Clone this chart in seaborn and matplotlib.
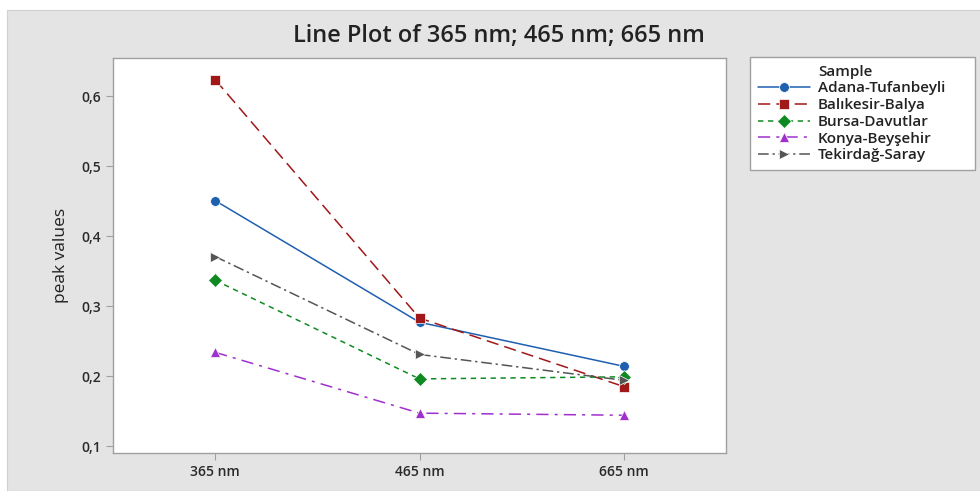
import numpy as np
import pandas as pd
import seaborn as sns
import matplotlib.pyplot as plt
from matplotlib.patches import Rectangle
from matplotlib.lines import Line2D

wavelengths = ['365 nm', '465 nm', '665 nm']
samples = ['Adana-Tufanbeyli', 'Balıkesir-Balya', 'Bursa-Davutlar',
           'Konya-Beyşehir', 'Tekirdağ-Saray']
adana = [0.451, 0.277, 0.214]
balikesir = [0.624, 0.283, 0.185]
bursa = [0.337, 0.196, 0.199]
konya = [0.234, 0.147, 0.144]
tekirdag = [0.371, 0.231, 0.194]
y_ticks = [0.1, 0.2, 0.3, 0.4, 0.5, 0.6]

rows = []
for name, vals in zip(samples, [adana, balikesir, bursa, konya, tekirdag]):
    for i, v in enumerate(vals):
        rows.append({'Sample': name, 'wl': i, 'peak values': v})
df = pd.DataFrame(rows)

palette = {'Adana-Tufanbeyli': '#1f5fb0', 'Balıkesir-Balya': '#a01818',
           'Bursa-Davutlar': '#0f8a22', 'Konya-Beyşehir': '#a030cc',
           'Tekirdağ-Saray': '#555555'}
markers = {'Adana-Tufanbeyli': 'o', 'Balıkesir-Balya': 's',
           'Bursa-Davutlar': 'D', 'Konya-Beyşehir': '^',
           'Tekirdağ-Saray': '>'}
dashes = {'Adana-Tufanbeyli': '', 'Balıkesir-Balya': (8, 4),
          'Bursa-Davutlar': (3.5, 3), 'Konya-Beyşehir': (8, 4, 2, 4),
          'Tekirdağ-Saray': (7, 2.5, 1.5, 2.5)}

sns.set_style('white')
plt.rcParams['font.family'] = ['Open Sans', 'DejaVu Sans']

fig = plt.figure(figsize=(9.8, 4.91), dpi=100)
fig.patch.set_facecolor('white')
fig.patches.append(Rectangle((7 / 980, 0), 1, (491 - 10) / 491,
                             transform=fig.transFigure, facecolor='#e4e4e4',
                             edgecolor='#d0d0d0', lw=0.8, zorder=-10))

ax = fig.add_axes([113 / 980, 38 / 491, 613 / 980, 395 / 491])
ax.set_facecolor('white')
sns.lineplot(data=df, x='wl', y='peak values', hue='Sample', style='Sample',
             palette=palette, markers=markers, dashes=dashes,
             markersize=7, markeredgewidth=0.5, linewidth=1.1, ax=ax,
             legend=True)

ax.set_xlim(-0.5, 2.5)
ax.set_ylim(0.09, 0.655)
ax.set_xticks(range(len(wavelengths)))
ax.set_xticklabels(wavelengths, fontweight='semibold')
ax.set_yticks(y_ticks)
ax.set_yticklabels([f'{t:.1f}'.replace('.', ',') for t in y_ticks],
                   fontweight='semibold')
ax.set_xlabel('')
ax.set_ylabel('peak values', fontsize=12.5, color='#222222', labelpad=9)
ax.tick_params(axis='both', which='major', direction='out', length=5,
               width=0.8, color='#a0a0a0', labelsize=10, labelcolor='#2a2a2a',
               bottom=True, left=True)
for s in ax.spines.values():
    s.set_color('#a0a0a0')
    s.set_linewidth(1.0)

handles, labels = ax.get_legend_handles_labels()
pairs = [(h, l) for h, l in zip(handles, labels) if l in samples]
# title as a blank first entry so it lines up with the labels
leg_h = [Line2D([], [], color='none')] + [p[0] for p in pairs]
leg_l = ['Sample'] + [p[1] for p in pairs]
leg = ax.legend(leg_h, leg_l,
                loc='upper left',
                bbox_to_anchor=(750 / 980, (491 - 57) / 491, 225 / 980, 0),
                bbox_transform=fig.transFigure, mode='expand',
                prop={'size': 11, 'weight': 'semibold'},
                frameon=True, fancybox=False, edgecolor='#a0a0a0',
                facecolor='white', framealpha=1, handlelength=3.4,
                handletextpad=0.55, borderpad=0.5, labelspacing=0.18,
                borderaxespad=0)
for t in leg.get_texts():
    t.set_color('#222222')

fig.text(499 / 980, 1 - 36 / 491, 'Line Plot of 365 nm; 465 nm; 665 nm',
         ha='center', va='center', fontsize=17, fontweight='semibold',
         color='#222222')

fig.savefig('out.png', dpi=100)
